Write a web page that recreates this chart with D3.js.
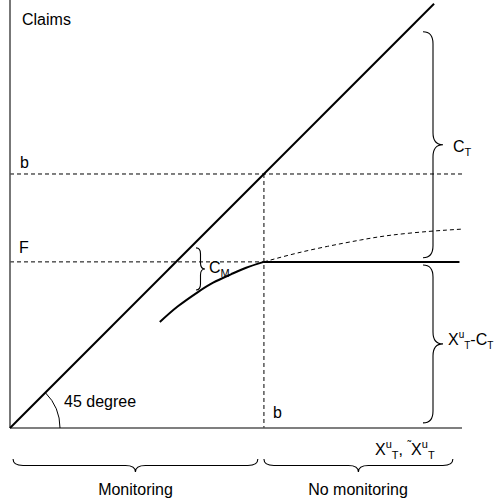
<!DOCTYPE html>
<html><head><meta charset="utf-8">
<script src="https://cdn.jsdelivr.net/npm/d3@7"></script>
<style>body{margin:0;background:#fff}svg{display:block}text{font-family:"Liberation Sans",Arial,sans-serif;fill:#000}</style>
</head><body><div id="chart"></div>
<script>
// Chart values (in claim units; b = 100)
const bValue = 100;
const fValue = 65.4;
const xMax = 178;
const yMax = 168.5;
const diagonalEnd = 167;
const flatEnd = 177;
// Monitoring (solid) curve
const monX = [59, 66, 74, 80, 87, 93, 100];
const monY = [41.7, 47.8, 53.5, 57.2, 60.5, 63.1, 65.4];
// No monitoring (dashed) curve
const noMonX = [100, 112, 125, 138, 150, 165, 178];
const noMonY = [65.4, 68.6, 71.5, 74.0, 75.9, 77.4, 78.3];
// Braces: [from, to] in data units
const braceCT = [156, 67];
const braceXuCT = [64.2, 2];
const braceCM = [70.9, 54.3];
const braceMonitoring = [1.2, 97.6];
const braceNoMonitoring = [100, 174.4];
const labels = {claims: "Claims", b: "b", F: "F", deg: "45 degree", mon: "Monitoring", nomon: "No monitoring"};

const W = 496, H = 503;
const svg = d3.select("#chart").append("svg").attr("width", W).attr("height", H);
const x = d3.scaleLinear().domain([0, xMax]).range([10, 462]);
const y = d3.scaleLinear().domain([0, yMax]).range([428, 0]);

const dash = "4,3";
function line(x1, y1, x2, y2, opts) {
  const l = svg.append("line").attr("x1", x(x1)).attr("y1", y(y1)).attr("x2", x(x2)).attr("y2", y(y2))
    .attr("stroke", opts.color || "#000").attr("stroke-width", opts.w || 1);
  if (opts.dash) l.attr("stroke-dasharray", opts.dash);
  return l;
}
// dashed guides
line(0, bValue, xMax, bValue, {dash, w: 1});
line(0, fValue, bValue, fValue, {dash, w: 1});
line(bValue, bValue, bValue, 0, {dash, w: 1});
// axes
line(0, 0, 0, yMax, {color: "#555", w: 1.6});
line(0, 0, xMax, 0, {color: "#555", w: 1.6});
// 45 degree line
line(0, 0, diagonalEnd, diagonalEnd, {w: 2});
// flat solid line
line(bValue, fValue, flatEnd, fValue, {w: 2});

const gen = d3.line().x(d => x(d[0])).y(d => y(d[1])).curve(d3.curveNatural);
svg.append("path").attr("d", gen(monX.map((v, i) => [v, monY[i]])))
  .attr("fill", "none").attr("stroke", "#000").attr("stroke-width", 2);
svg.append("path").attr("d", gen(noMonX.map((v, i) => [v, noMonY[i]])))
  .attr("fill", "none").attr("stroke", "#000").attr("stroke-width", 1).attr("stroke-dasharray", dash);

// angle arc
const p = d3.path();
const R = 50;
p.arc(x(0), y(0), R, 0, -Math.PI / 4, true);
svg.append("path").attr("d", p.toString()).attr("fill", "none").attr("stroke", "#000").attr("stroke-width", 1);

// brace helper: from (ax,ay) to (bx,by) pixel; (nx,ny) unit direction of tip; d half-depth, r curl
function brace(ax, ay, bx, by, nx, ny, d, r) {
  const len = Math.hypot(bx - ax, by - ay);
  const ux = (bx - ax) / len, uy = (by - ay) / len;
  const P = (t, k) => [ax + ux * t + nx * k, ay + uy * t + ny * k];
  const m = len / 2;
  const pts = [P(0, 0), P(0, d), P(r, d), P(m - r, d), P(m, d), P(m, 2 * d), P(m, d), P(m + r, d), P(len - r, d), P(len, d), P(len, 0)];
  const s = (q) => q[0].toFixed(2) + "," + q[1].toFixed(2);
  const path = "M" + s(pts[0]) + "Q" + s(pts[1]) + " " + s(pts[2]) + "L" + s(pts[3]) + "Q" + s(pts[4]) + " " + s(pts[5]) +
    "Q" + s(pts[6]) + " " + s(pts[7]) + "L" + s(pts[8]) + "Q" + s(pts[9]) + " " + s(pts[10]);
  svg.append("path").attr("d", path).attr("fill", "none").attr("stroke", "#000").attr("stroke-width", 1.1);
}
brace(423, y(braceCT[0]), 423, y(braceCT[1]), 1, 0, 10, 12);
brace(423, y(braceXuCT[0]), 423, y(braceXuCT[1]), 1, 0, 10, 12);
brace(196, y(braceCM[0]), 196, y(braceCM[1]), 1, 0, 4.5, 6);
brace(x(braceMonitoring[0]), 459, x(braceMonitoring[1]), 459, 0, 1, 6.5, 10);
brace(x(braceNoMonitoring[0]), 459, x(braceNoMonitoring[1]), 459, 0, 1, 6.5, 10);

// text helper with rich parts
function rich(px, py, parts, anchor, subSize) {
  const t = svg.append("text").attr("x", px).attr("y", py).attr("font-size", 16);
  if (anchor) t.attr("text-anchor", anchor);
  let shift = 0;
  parts.forEach(pt => {
    const target = pt.k === "sup" ? -7 : pt.k === "sub" ? 4 : 0;
    const ts = t.append("tspan").text(pt.t).attr("dy", target - shift);
    if (pt.k) ts.attr("font-size", subSize || 11);
    shift = target;
  });
  return t;
}
rich(22, 25, [{t: labels.claims}]);
rich(20, 168, [{t: labels.b}]);
rich(19, 253, [{t: labels.F}]);
rich(64, 407, [{t: labels.deg}]);
rich(273, 418, [{t: labels.b}]);
rich(135.5, 495, [{t: labels.mon}], "middle");
rich(358, 495, [{t: labels.nomon}], "middle");
rich(453, 152, [{t: "C"}, {t: "T", k: "sub"}]);
rich(209, 273, [{t: "C"}, {t: "M", k: "sub"}]);
rich(448, 345, [{t: "X"}, {t: "u", k: "sup"}, {t: "T", k: "sub"}, {t: "-C"}, {t: "T", k: "sub"}], null, 10);
rich(375, 455, [{t: "X"}, {t: "u", k: "sup"}, {t: "T", k: "sub"}, {t: ",  "}, {t: "˜", k: "sup"}, {t: "X"}, {t: "u", k: "sup"}, {t: "T", k: "sub"}]);
</script></body></html>
